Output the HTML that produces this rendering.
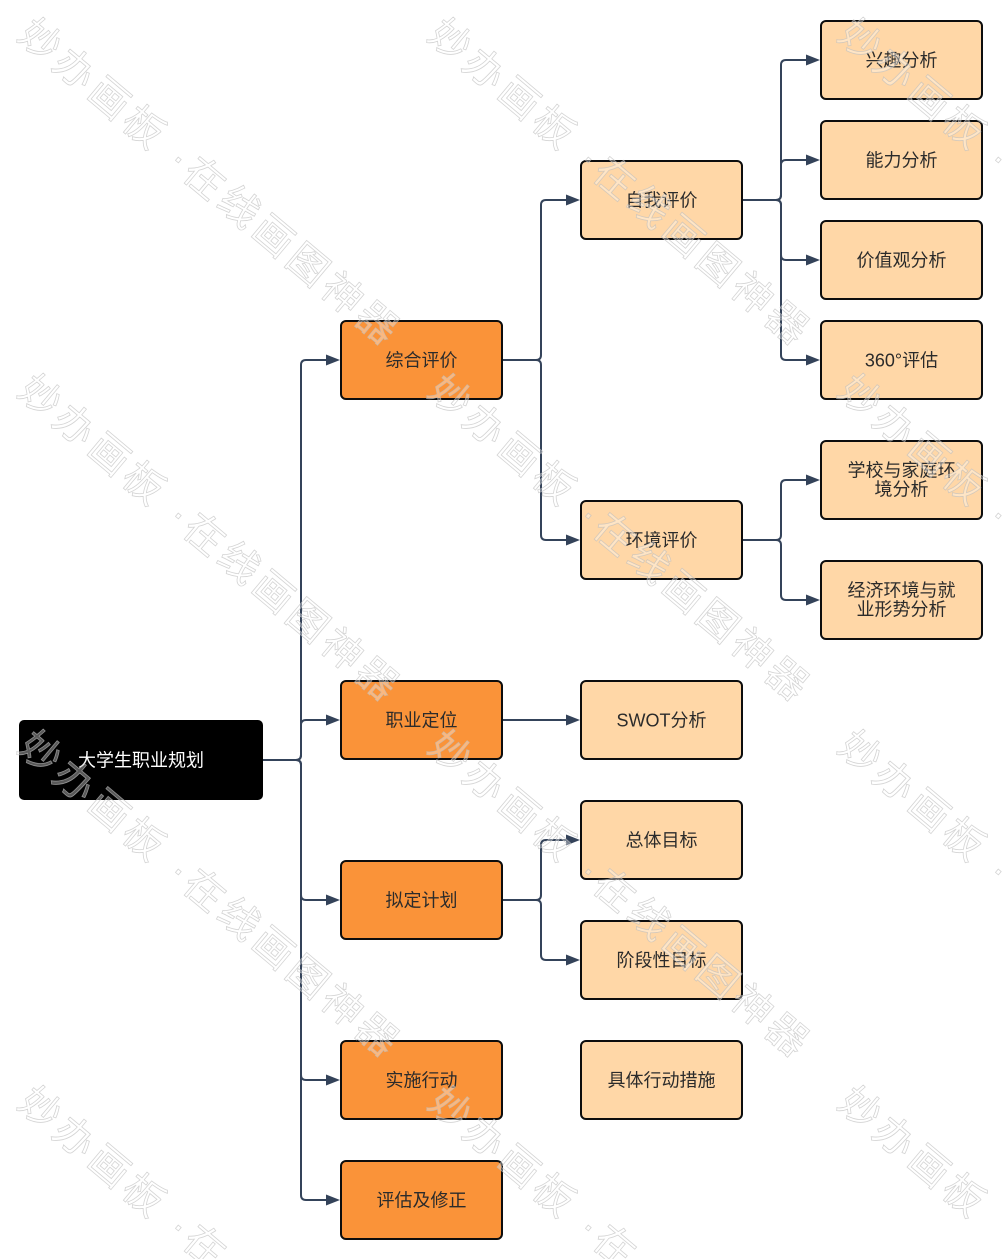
<!DOCTYPE html>
<html>
<head>
<meta charset="utf-8">
<style>
  html, body { margin: 0; padding: 0; background: #ffffff; }
  body { width: 1003px; height: 1259px; overflow: hidden; position: relative; }
  svg { display: block; overflow: hidden; }
  .lbl { font-family: "Liberation Sans", "Noto Sans CJK SC", sans-serif; font-size: 18px; fill: #2b2b2b; }
  .wm { font-family: "Liberation Sans", "Noto Sans CJK SC", sans-serif; font-size: 40px; letter-spacing: 5px; fill: #ffffff; fill-opacity: 0.35; stroke: #bdbdbd; stroke-opacity: 0.65; stroke-width: 0.8; }
</style>
</head>
<body>
<svg width="1003" height="1259" viewBox="0 0 1003 1259" xmlns="http://www.w3.org/2000/svg">
  <defs>
    <clipPath id="frame"><rect x="0" y="0" width="1003" height="1259"/></clipPath>
  </defs>
  <rect x="0" y="0" width="1003" height="1259" fill="#ffffff"/>

  <!-- connectors -->
  <g fill="none" stroke="#34435a" stroke-width="2" stroke-linecap="butt" stroke-linejoin="round">
    <path d="M263,760 H296 Q301,760 301,755 V365 Q301,360 306,360 H328"/>
    <path d="M263,760 H296 Q301,760 301,755 V725 Q301,720 306,720 H328"/>
    <path d="M263,760 H296 Q301,760 301,765 V895 Q301,900 306,900 H328"/>
    <path d="M263,760 H296 Q301,760 301,765 V1075 Q301,1080 306,1080 H328"/>
    <path d="M263,760 H296 Q301,760 301,765 V1195 Q301,1200 306,1200 H328"/>
    <path d="M503,360 H536 Q541,360 541,355 V205 Q541,200 546,200 H568"/>
    <path d="M503,360 H536 Q541,360 541,365 V535 Q541,540 546,540 H568"/>
    <path d="M503,720 H568"/>
    <path d="M503,900 H536 Q541,900 541,895 V845 Q541,840 546,840 H568"/>
    <path d="M503,900 H536 Q541,900 541,905 V955 Q541,960 546,960 H568"/>
    <path d="M743,200 H776 Q781,200 781,195 V65 Q781,60 786,60 H808"/>
    <path d="M743,200 H776 Q781,200 781,195 V165 Q781,160 786,160 H808"/>
    <path d="M743,200 H776 Q781,200 781,205 V255 Q781,260 786,260 H808"/>
    <path d="M743,200 H776 Q781,200 781,205 V355 Q781,360 786,360 H808"/>
    <path d="M743,540 H776 Q781,540 781,535 V485 Q781,480 786,480 H808"/>
    <path d="M743,540 H776 Q781,540 781,545 V595 Q781,600 786,600 H808"/>
  </g>

  <!-- arrowheads -->
  <g fill="#34435a">
    <polygon points="326,354.5 340,360 326,365.5"/>
    <polygon points="326,714.5 340,720 326,725.5"/>
    <polygon points="326,894.5 340,900 326,905.5"/>
    <polygon points="326,1074.5 340,1080 326,1085.5"/>
    <polygon points="326,1194.5 340,1200 326,1205.5"/>
    <polygon points="566,194.5 580,200 566,205.5"/>
    <polygon points="566,534.5 580,540 566,545.5"/>
    <polygon points="566,714.5 580,720 566,725.5"/>
    <polygon points="566,834.5 580,840 566,845.5"/>
    <polygon points="566,954.5 580,960 566,965.5"/>
    <polygon points="806,54.5 820,60 806,65.5"/>
    <polygon points="806,154.5 820,160 806,165.5"/>
    <polygon points="806,254.5 820,260 806,265.5"/>
    <polygon points="806,354.5 820,360 806,365.5"/>
    <polygon points="806,474.5 820,480 806,485.5"/>
    <polygon points="806,594.5 820,600 806,605.5"/>
  </g>

  <!-- root -->
  <rect x="19" y="720" width="244" height="80" rx="5" ry="5" fill="#000000"/>
  <text x="141" y="766.5" text-anchor="middle" class="lbl" style="fill:#ffffff">大学生职业规划</text>

  <!-- level 1 -->
  <g fill="#fa9339" stroke="#0d0d0d" stroke-width="2">
    <rect x="341" y="321" width="161" height="78" rx="5" ry="5"/>
    <rect x="341" y="681" width="161" height="78" rx="5" ry="5"/>
    <rect x="341" y="861" width="161" height="78" rx="5" ry="5"/>
    <rect x="341" y="1041" width="161" height="78" rx="5" ry="5"/>
    <rect x="341" y="1161" width="161" height="78" rx="5" ry="5"/>
  </g>
  <text x="421.5" y="366.5" text-anchor="middle" class="lbl">综合评价</text>
  <text x="421.5" y="726.5" text-anchor="middle" class="lbl">职业定位</text>
  <text x="421.5" y="906.5" text-anchor="middle" class="lbl">拟定计划</text>
  <text x="421.5" y="1086.5" text-anchor="middle" class="lbl">实施行动</text>
  <text x="421.5" y="1206.5" text-anchor="middle" class="lbl">评估及修正</text>

  <!-- level 2 -->
  <g fill="#ffd7a7" stroke="#0d0d0d" stroke-width="2">
    <rect x="581" y="161" width="161" height="78" rx="5" ry="5"/>
    <rect x="581" y="501" width="161" height="78" rx="5" ry="5"/>
    <rect x="581" y="681" width="161" height="78" rx="5" ry="5"/>
    <rect x="581" y="801" width="161" height="78" rx="5" ry="5"/>
    <rect x="581" y="921" width="161" height="78" rx="5" ry="5"/>
    <rect x="581" y="1041" width="161" height="78" rx="5" ry="5"/>
  </g>
  <text x="661.5" y="206.5" text-anchor="middle" class="lbl">自我评价</text>
  <text x="661.5" y="546.5" text-anchor="middle" class="lbl">环境评价</text>
  <text x="661.5" y="726.5" text-anchor="middle" class="lbl">SWOT分析</text>
  <text x="661.5" y="846.5" text-anchor="middle" class="lbl">总体目标</text>
  <text x="661.5" y="966.5" text-anchor="middle" class="lbl">阶段性目标</text>
  <text x="661.5" y="1086.5" text-anchor="middle" class="lbl">具体行动措施</text>

  <!-- level 3 -->
  <g fill="#ffd7a7" stroke="#0d0d0d" stroke-width="2">
    <rect x="821" y="21" width="161" height="78" rx="5" ry="5"/>
    <rect x="821" y="121" width="161" height="78" rx="5" ry="5"/>
    <rect x="821" y="221" width="161" height="78" rx="5" ry="5"/>
    <rect x="821" y="321" width="161" height="78" rx="5" ry="5"/>
    <rect x="821" y="441" width="161" height="78" rx="5" ry="5"/>
    <rect x="821" y="561" width="161" height="78" rx="5" ry="5"/>
  </g>
  <text x="901.5" y="66.5" text-anchor="middle" class="lbl">兴趣分析</text>
  <text x="901.5" y="166.5" text-anchor="middle" class="lbl">能力分析</text>
  <text x="901.5" y="266.5" text-anchor="middle" class="lbl">价值观分析</text>
  <text x="901.5" y="366.5" text-anchor="middle" class="lbl">360°评估</text>
  <text x="901.5" y="476.5" text-anchor="middle" class="lbl">学校与家庭环</text>
  <text x="901.5" y="495.5" text-anchor="middle" class="lbl">境分析</text>
  <text x="901.5" y="596.5" text-anchor="middle" class="lbl">经济环境与就</text>
  <text x="901.5" y="615.5" text-anchor="middle" class="lbl">业形势分析</text>

  <!-- watermarks -->
  <g class="wm" clip-path="url(#frame)">
    <text x="16" y="38" transform="rotate(40 16 38)">妙办画板 ·在线画图神器</text>
    <text x="426" y="38" transform="rotate(40 426 38)">妙办画板 ·在线画图神器</text>
    <text x="836" y="38" transform="rotate(40 836 38)">妙办画板 ·</text>

    <text x="16" y="394" transform="rotate(40 16 394)">妙办画板 ·在线画图神器</text>
    <text x="426" y="394" transform="rotate(40 426 394)">妙办画板 ·在线画图神器</text>
    <text x="836" y="394" transform="rotate(40 836 394)">妙办画板 ·</text>

    <text x="16" y="750" transform="rotate(40 16 750)">妙办画板 ·在线画图神器</text>
    <text x="426" y="750" transform="rotate(40 426 750)">妙办画板 ·在线画图神器</text>
    <text x="836" y="750" transform="rotate(40 836 750)">妙办画板 ·</text>

    <text x="16" y="1106" transform="rotate(40 16 1106)">妙办画板 ·在</text>
    <text x="426" y="1106" transform="rotate(40 426 1106)">妙办画板 ·在</text>
    <text x="836" y="1106" transform="rotate(40 836 1106)">妙办画板</text>
  </g>
</svg>
</body>
</html>
